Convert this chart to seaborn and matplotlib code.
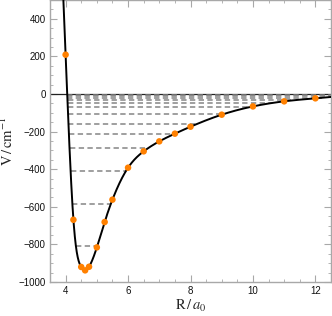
import numpy as np
import pandas as pd
import matplotlib
matplotlib.use("Agg")
import matplotlib.pyplot as plt
import seaborn as sns

# ab initio points (R in bohr, V in cm^-1)
r_points = [4.0, 4.25, 4.5, 4.625, 4.75, 5.0, 5.25, 5.5, 6.0, 6.5, 7.0, 7.5,
            8.0, 9.0, 10.0, 11.0, 12.0]
v_points = [209, -669, -920, -938, -919, -816, -681, -562, -392, -305, -252,
            -211, -174, -110, -66, -39, -23]

# vibrational levels (cm^-1)
levels = [-808, -585, -408, -289, -215, -157, -109, -70, -48, -33, -20, -10, -3]

sns.set_style("ticks")
plt.rcParams["mathtext.fontset"] = "stix"
plt.rcParams["font.family"] = ["Liberation Sans", "DejaVu Sans"]

FRAME = "#a8a8a8"
ORANGE = "#ff8000"


def natural_spline(x, y, xs):
    """Natural cubic spline through (x, y), evaluated at xs (numpy only)."""
    x = np.asarray(x, float)
    y = np.asarray(y, float)
    n = len(x)
    h = np.diff(x)
    A = np.zeros((n, n))
    b = np.zeros(n)
    A[0, 0] = A[-1, -1] = 1
    for i in range(1, n - 1):
        A[i, i - 1] = h[i - 1]
        A[i, i] = 2 * (h[i - 1] + h[i])
        A[i, i + 1] = h[i]
        b[i] = 3 * ((y[i + 1] - y[i]) / h[i] - (y[i] - y[i - 1]) / h[i - 1])
    c = np.linalg.solve(A, b)
    bb = (np.diff(y) / h) - h * (2 * c[:-1] + c[1:]) / 3
    d = np.diff(c) / (3 * h)
    idx = np.clip(np.searchsorted(x, xs) - 1, 0, n - 2)
    t = xs - x[idx]
    return y[idx] + bb[idx] * t + c[idx] * t ** 2 + d[idx] * t ** 3


r_fine = np.linspace(3.85, 12.5, 2000)
v_fine = natural_spline(r_points, v_points, r_fine)
curve = pd.DataFrame({"R": r_fine, "V": v_fine})
pts = pd.DataFrame({"R": r_points, "V": v_points})

fig = plt.figure(figsize=(3.32, 3.16), dpi=100)
ax = fig.add_axes([50 / 332, 34 / 316, 281 / 332, 282 / 316])

# dashed levels between the classical turning points
for lev in levels:
    below = curve["R"][curve["V"] <= lev]
    ax.hlines(lev, below.min(), below.max(), colors="#858585", lw=1.1,
              linestyles=(0, (3.5, 2.2)), zorder=2)

ax.axhline(0, color="#222222", lw=0.9, zorder=1)
sns.lineplot(data=curve, x="R", y="V", color="black", lw=1.4, ax=ax,
             sort=False, zorder=3)
sns.scatterplot(data=pts, x="R", y="V", color=ORANGE, s=22, edgecolor="none",
                ax=ax, zorder=4)

ax.set_xlim(3.5, 12.5)
ax.set_ylim(-1000, 500)
ax.set_xticks([4, 6, 8, 10, 12])
ax.set_xticks(np.arange(3.5, 12.6, 0.5), minor=True)
ax.set_yticks(np.arange(-1000, 401, 200))
ax.set_yticks(np.arange(-1000, 501, 50), minor=True)
ax.set_yticklabels([f"{t:d}".replace("-", "\u2212") for t in range(-1000, 401, 200)])

for s in ax.spines.values():
    s.set_visible(True)
    s.set_color(FRAME)
    s.set_linewidth(1.0)
ax.tick_params(which="both", direction="in", color=FRAME, top=True, right=True,
               labelsize=7, labelcolor="#111111", pad=3)
ax.tick_params(which="major", length=5, width=0.8)
ax.tick_params(which="minor", length=2.5, width=0.6)

ax.set_xlabel(r"$\mathrm{R}\,/\,a_0$", fontsize=10.5, labelpad=1)
ax.set_ylabel(r"$\mathrm{V}\,/\,\mathrm{cm}^{-1}$", fontsize=10.5, labelpad=2)

fig.savefig("out.png", dpi=100)
